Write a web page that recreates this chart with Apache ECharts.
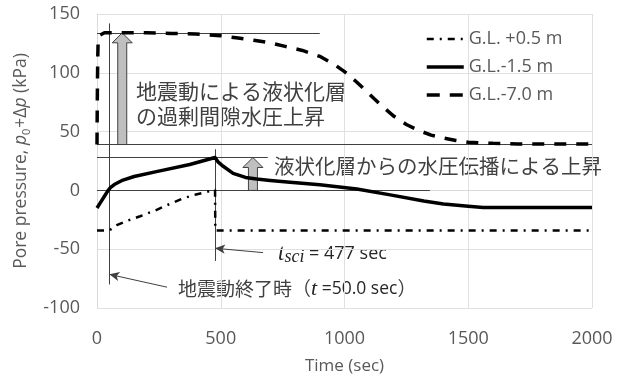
<!DOCTYPE html>
<html>
<head>
<meta charset="utf-8">
<script src="https://cdn.jsdelivr.net/npm/echarts@6/dist/echarts.min.js"></script>
<style>
  html, body { margin: 0; padding: 0; background: #fff; }
  #chart { width: 624px; height: 380px; }
</style>
</head>
<body>
<div id="chart"></div>
<script>
// Pore pressure histories (kPa) at three depths, time in seconds
const timeShallow = [0, 50, 80, 120, 174, 241, 300, 349, 400, 457, 477, 478, 2000];
const valShallow  = [-34, -34, -29.6, -26, -22, -16.5, -11, -6.6, -3.5, -0.5, 0.5, -34, -34];

const timeMid = [0, 15, 30, 45, 55, 70, 105, 150, 240, 375, 477, 490, 510, 550, 600, 645, 700, 780, 900, 1050, 1185, 1320, 1400, 1500, 1560, 1600, 2000];
const valMid  = [-15, -10, -5, 0, 2.5, 5, 8.8, 11.8, 16, 22, 28, 24, 20.5, 14.5, 11, 9.7, 8.5, 6.9, 4.8, 1.2, -3.8, -9, -11.5, -13.5, -14.5, -14.5, -14.5];

const timeDeep = [0, 1, 2, 3, 4, 5, 8, 12, 20, 30, 100, 200, 300, 400, 500, 570, 640, 700, 760, 830, 900, 960, 1000, 1050, 1100, 1150, 1200, 1250, 1300, 1350, 1400, 1450, 1500, 1600, 1700, 1800, 2000];
const valDeep  = [39, 70, 95, 112, 122, 127, 130, 132, 133.3, 134, 134, 134, 133.5, 133, 131.5, 129.5, 127.5, 125.5, 122.5, 119, 114, 107, 101, 92, 82, 72, 63, 56, 51, 47, 44.5, 42.5, 41, 40, 39.5, 39.5, 39.5];

const seriesNames = ['G.L. +0.5 m', 'G.L.-1.5 m', 'G.L.-7.0 m'];
const xTicks = [0, 500, 1000, 1500, 2000];
const yTicks = [-100, -50, 0, 50, 100, 150];

// Gray lift arrows: [time, from, to]
const liftArrows = [[102, 39, 134], [630, 0, 28]];

// Reference levels and markers: [[t1, p1], [t2, p2]]
const guideLines = [
  [[0, 134], [900, 134]],
  [[0, 39], [2000, 39]],
  [[0, 28], [690, 28]],
  [[0, 0], [1345, 0]],
  [[50, 142], [50, -80]],
  [[477, 35], [477, -60]]
];
const pointerLines = [
  [[283, -82.3], [50, -71.4]],
  [[671, -52.9], [477, -49.2]]
];

const zip = (xs, ys) => xs.map((x, i) => [x, ys[i]]);

const gray = '#595959';
const sans = 'Open Sans';
const cjk = 'Noto Sans CJK JP';

const chart = echarts.init(document.getElementById('chart'), null, { renderer: 'canvas' });

const guideStyle = { color: '#404040', width: 1, type: 'solid' };
const markData = guideLines.map(seg => [
  { coord: seg[0], symbol: 'none' },
  { coord: seg[1], symbol: 'none' }
]).concat(pointerLines.map(seg => [
  { coord: seg[0], symbol: 'none' },
  { coord: seg[1], symbol: 'arrow', symbolSize: [7, 10] }
]));

const hiddenMarker = { opacity: 0 };

const option = {
  animation: false,
  backgroundColor: '#fff',
  grid: { left: 97, right: 32, top: 14, bottom: 69 },
  legend: {
    orient: 'vertical',
    left: 425,
    top: 30,
    padding: 0,
    itemWidth: 37,
    itemHeight: 14,
    itemGap: 10,
    textStyle: { fontFamily: sans, fontSize: 18, color: gray, lineHeight: 18 },
    data: [
      { name: seriesNames[0], itemStyle: hiddenMarker, lineStyle: { width: 2.5, type: [7, 6, 2, 6], color: '#000' } },
      { name: seriesNames[1], itemStyle: hiddenMarker, lineStyle: { width: 3.5, type: 'solid', color: '#000' } },
      { name: seriesNames[2], itemStyle: hiddenMarker, lineStyle: { width: 3.5, type: [13, 10], color: '#000' } }
    ]
  },
  xAxis: {
    type: 'value',
    min: xTicks[0],
    max: xTicks[xTicks.length - 1],
    interval: xTicks[1] - xTicks[0],
    name: 'Time (sec)',
    nameLocation: 'middle',
    nameGap: 50,
    nameTextStyle: { fontFamily: sans, fontSize: 17, color: gray },
    axisLine: { show: true, lineStyle: { color: '#d9d9d9', width: 1 } },
    axisTick: { show: false },
    axisLabel: { fontFamily: sans, fontSize: 18, color: gray, margin: 22, formatter: v => String(v) },
    splitLine: { show: true, lineStyle: { color: '#e0e0e0', width: 1 } }
  },
  yAxis: {
    type: 'value',
    min: yTicks[0],
    max: yTicks[yTicks.length - 1],
    interval: yTicks[1] - yTicks[0],
    name: '{a|Pore pressure, }{i|p}{s|0}{a|+Δ}{i|p}{a| (kPa)}',
    nameLocation: 'middle',
    nameRotate: 90,
    nameGap: 63,
    nameTextStyle: {
      rich: {
        a: { fontFamily: sans, fontSize: 17.5, color: gray, lineHeight: 24, verticalAlign: 'middle' },
        i: { fontFamily: sans, fontSize: 17.5, color: gray, fontStyle: 'italic', lineHeight: 24, verticalAlign: 'middle' },
        s: { fontFamily: sans, fontSize: 11, color: gray, verticalAlign: 'bottom', padding: [0, 1, 1, 0] }
      }
    },
    axisLine: { show: true, lineStyle: { color: '#d9d9d9', width: 1 } },
    axisTick: { show: false },
    axisLabel: { fontFamily: sans, fontSize: 18, color: gray, margin: 17, formatter: v => String(v) },
    splitLine: { show: true, lineStyle: { color: '#e0e0e0', width: 1 } }
  },
  series: [
    {
      name: seriesNames[0],
      type: 'line',
      data: zip(timeShallow, valShallow),
      showSymbol: false,
      symbol: 'none',
      clip: false,
      z: 5,
      lineStyle: { color: '#000', width: 2.5, type: [7, 6, 2, 6] },
      itemStyle: { color: '#000' },
      markLine: {
        silent: true,
        animation: false,
        symbol: ['none', 'none'],
        label: { show: false },
        lineStyle: guideStyle,
        itemStyle: { color: '#262626' },
        emphasis: { disabled: true },
        data: markData
      }
    },
    {
      name: seriesNames[1],
      type: 'line',
      data: zip(timeMid, valMid),
      showSymbol: false,
      symbol: 'none',
      clip: false,
      z: 5,
      lineStyle: { color: '#000', width: 3.5, type: 'solid', join: 'round' },
      itemStyle: { color: '#000' }
    },
    {
      name: seriesNames[2],
      type: 'line',
      data: zip(timeDeep, valDeep),
      showSymbol: false,
      symbol: 'none',
      clip: false,
      z: 5,
      lineStyle: { color: '#000', width: 3.5, type: [12, 10] },
      itemStyle: { color: '#000' }
    },
    {
      name: 'lift',
      type: 'custom',
      silent: true,
      z: 4,
      data: liftArrows,
      renderItem: function (params, api) {
        const base = api.coord([api.value(0), api.value(1)]);
        const tip = api.coord([api.value(0), api.value(2)]);
        const cx = base[0];
        const hw = 4.5, hh = 10, hl = 10;
        const pts = [
          [cx - hw, base[1]], [cx - hw, tip[1] + hl], [cx - hh, tip[1] + hl],
          [cx, tip[1]],
          [cx + hh, tip[1] + hl], [cx + hw, tip[1] + hl], [cx + hw, base[1]]
        ];
        return {
          type: 'polygon',
          shape: { points: pts },
          style: { fill: '#bfbfbf', stroke: '#404040', lineWidth: 1 }
        };
      }
    }
  ],
  graphic: [
    {
      type: 'text',
      left: 136,
      top: 79,
      silent: true,
      style: {
        text: '地震動による液状化層\nの過剰間隙水圧上昇',
        font: '21px "Noto Sans CJK JP"',
        fill: '#404040',
        lineHeight: 25
      }
    },
    {
      type: 'text',
      left: 274,
      top: 156,
      silent: true,
      style: {
        text: '液状化層からの水圧伝播による上昇',
        font: '20.5px "Noto Sans CJK JP"',
        fill: '#404040'
      }
    },
    {
      type: 'text',
      left: 278,
      top: 242,
      silent: true,
      style: {
        text: '{t|t}{s|sci}{n| = 477 sec}',
        rich: {
          t: { fontFamily: 'Liberation Serif', fontStyle: 'italic', fontSize: 23, fill: '#262626', lineHeight: 26, verticalAlign: 'middle' },
          s: { fontFamily: 'Liberation Serif', fontStyle: 'italic', fontSize: 18, fill: '#262626', verticalAlign: 'bottom' },
          n: { fontFamily: sans, fontSize: 18, fill: '#262626', lineHeight: 26, verticalAlign: 'middle' }
        }
      }
    },
    {
      type: 'text',
      left: 178,
      top: 278,
      silent: true,
      style: {
        text: '{j|地震動終了時（}{t|t}{n| =50.0 sec}{j|）}',
        rich: {
          j: { fontFamily: cjk, fontSize: 19, fill: '#404040', lineHeight: 24, verticalAlign: 'middle' },
          t: { fontFamily: 'Liberation Serif', fontStyle: 'italic', fontSize: 22, fill: '#262626', lineHeight: 24, verticalAlign: 'middle' },
          n: { fontFamily: sans, fontSize: 17.5, fill: '#262626', lineHeight: 24, verticalAlign: 'middle' }
        }
      }
    }
  ]
};

chart.setOption(option);
</script>
</body>
</html>
